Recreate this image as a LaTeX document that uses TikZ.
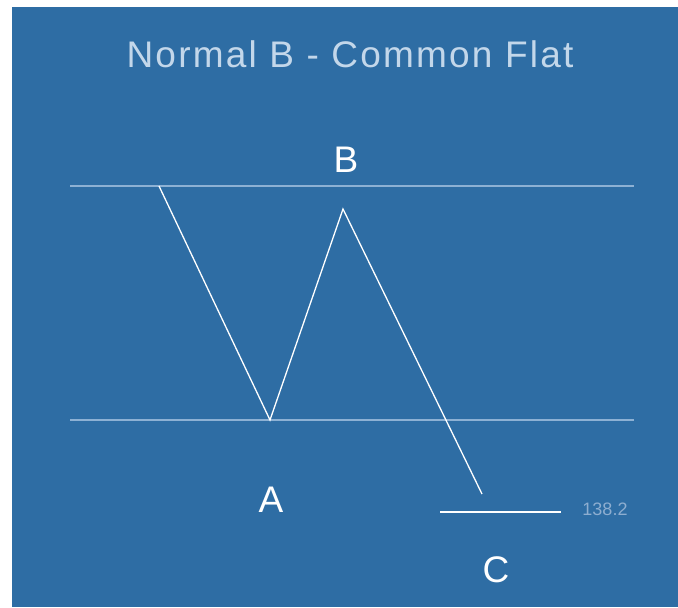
\documentclass[tikz,border=0pt]{standalone}
\usepackage{fontspec}
\setmainfont{Liberation Sans}
\definecolor{bgblue}{HTML}{2E6DA4}
\definecolor{titlecol}{HTML}{C3D7EA}
\definecolor{levelcol}{HTML}{8DB1D4}
\definecolor{numcol}{HTML}{8EAED0}
\tikzset{
  wavelabel/.style={text=white, font=\fontsize{37}{40}\selectfont, anchor=base, inner sep=0pt},
  levelline/.style={draw=levelcol, line width=1.6pt},
  waveline/.style={draw=white, line width=1.3pt, line join=miter},
}
\begin{document}
\begin{tikzpicture}[x=1pt,y=-1pt]
\useasboundingbox (0,0) rectangle (678,608);
\fill[white] (0,0) rectangle (678,608);
\fill[bgblue] (12,7) rectangle (678,607);
% title
\node[text=titlecol, anchor=base, inner sep=0pt, font=\fontsize{37}{40}\selectfont\addfontfeature{LetterSpace=6}] (title) at (350,67) {Normal B - Common Flat};
% level lines
\coordinate (t1) at (70,186);
\coordinate (t2) at (634,186);
\coordinate (l1) at (70,420);
\coordinate (l2) at (634,420);
\draw[levelline] (t1) -- (t2);
\draw[levelline] (l1) -- (l2);
% wave
\coordinate (p0) at (159,186);
\coordinate (pA) at (270,420);
\coordinate (pB) at (343,209);
\coordinate (pC) at (482,494);
\draw[waveline] (p0) -- (pA) -- (pB) -- (pC);
% C level
\coordinate (c1) at (440,512);
\coordinate (c2) at (561,512);
\draw[draw=white, line width=1.8pt] (c1) -- (c2);
% labels
\node[wavelabel] (labB) at (346,172) {B};
\node[wavelabel] (labA) at (271,512) {A};
\node[wavelabel] (labC) at (496,582) {C};
\node[text=numcol, anchor=base, inner sep=0pt, font=\fontsize{18}{20}\selectfont] (num) at (605,515) {138.2};
\end{tikzpicture}
\end{document}
